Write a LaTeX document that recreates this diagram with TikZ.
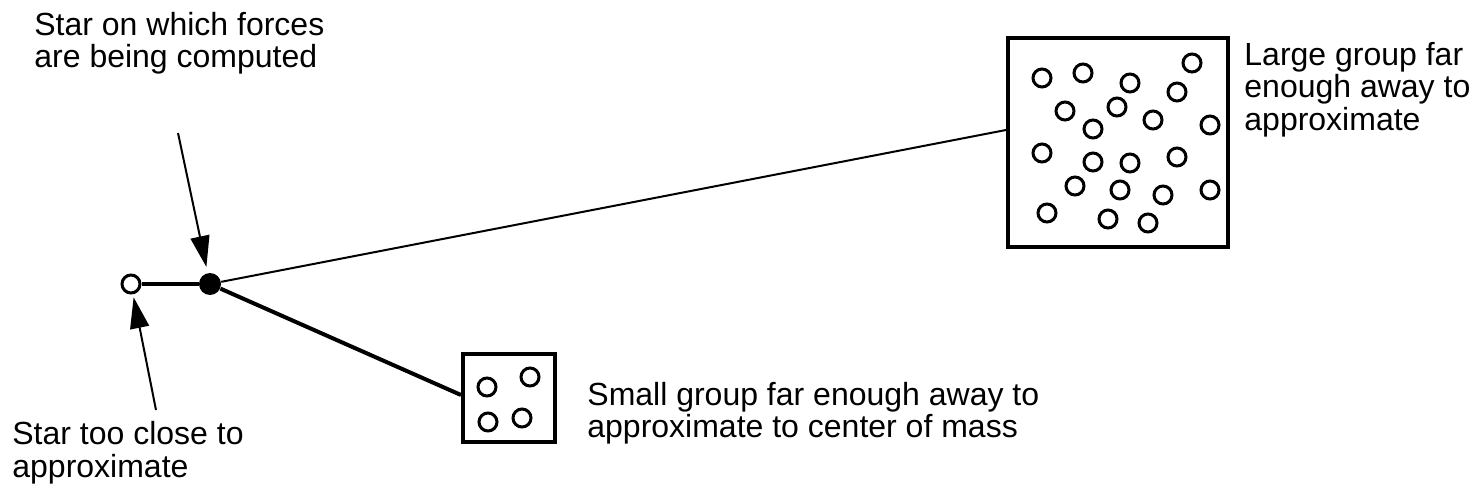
\documentclass[tikz,border=0pt]{standalone}
\usepackage{fontspec}
\setmainfont{Liberation Sans}
\usetikzlibrary{arrows.meta}

\begin{document}
\begin{tikzpicture}[x=0.5pt,y=-0.5pt,
    body/.style={circle,draw,line width=1.5pt,minimum size=9pt,inner sep=0pt},
    target/.style={circle,fill=black,minimum size=11pt,inner sep=0pt},
    group/.style={rectangle,draw,line width=2pt,inner sep=0pt},
    note/.style={anchor=north west,align=left,inner sep=0pt,font=\fontsize{16}{16.25}\selectfont},
    pointer/.style={-{Triangle[length=15.5pt,width=9.5pt]},line width=1pt},
    link/.style={line width=1pt}
]
\useasboundingbox[fill=white] (0,0) rectangle (1476,492);

% Stars near the one being computed
\node[target] (target) at (210,284) {};
\node[body] (near) at (131,284) {};
\draw[link,line width=2pt] (near) -- (target);

% Large distant group
\node[group,minimum width=110pt,minimum height=104.5pt] (large) at (1118,142.5) {};
\foreach \px/\py [count=\i] in {1042/78,1083/73,1130/83,1192/63,1177/92,1065/111,1117/107,
    1153/120,1210/125,1093/129,1042/153,1093/162,1130/163,1177/157,1075/186,1120/190,
    1163/195,1210/190,1047/213,1108/219,1148/223}
    \node[body] (lg-\i) at (\px,\py) {};
\draw[link] (target) -- ([yshift=6.25pt]large.west);

% Small distant group
\node[group,minimum width=46pt,minimum height=44pt] (small) at (509,398) {};
\foreach \px/\py [count=\i] in {487/387,530/377,488/422,522/418}
    \node[body] (sm-\i) at (\px,\py) {};
\draw[link,line width=2pt] (target) -- ([yshift=1.5pt]small.west);

% Labels
\node[note] (lbl-target) at (34,11.5) {Star on which forces\\are being computed};
\node[note] (lbl-near) at (12,421) {Star too close to\\approximate};
\node[note] (lbl-small) at (587,381.5) {Small group far enough away to\\approximate to center of mass};
\node[note] (lbl-large) at (1244,41.5) {Large group far\\enough away to\\approximate};

% Pointers
\coordinate (tail-target) at (178,133);
\coordinate (tail-near) at (156,410);
\draw[pointer,shorten >=3pt] (tail-target) -- (target);
\draw[pointer,shorten >=1.5pt] (tail-near) -- (near);

\end{tikzpicture}
\end{document}
